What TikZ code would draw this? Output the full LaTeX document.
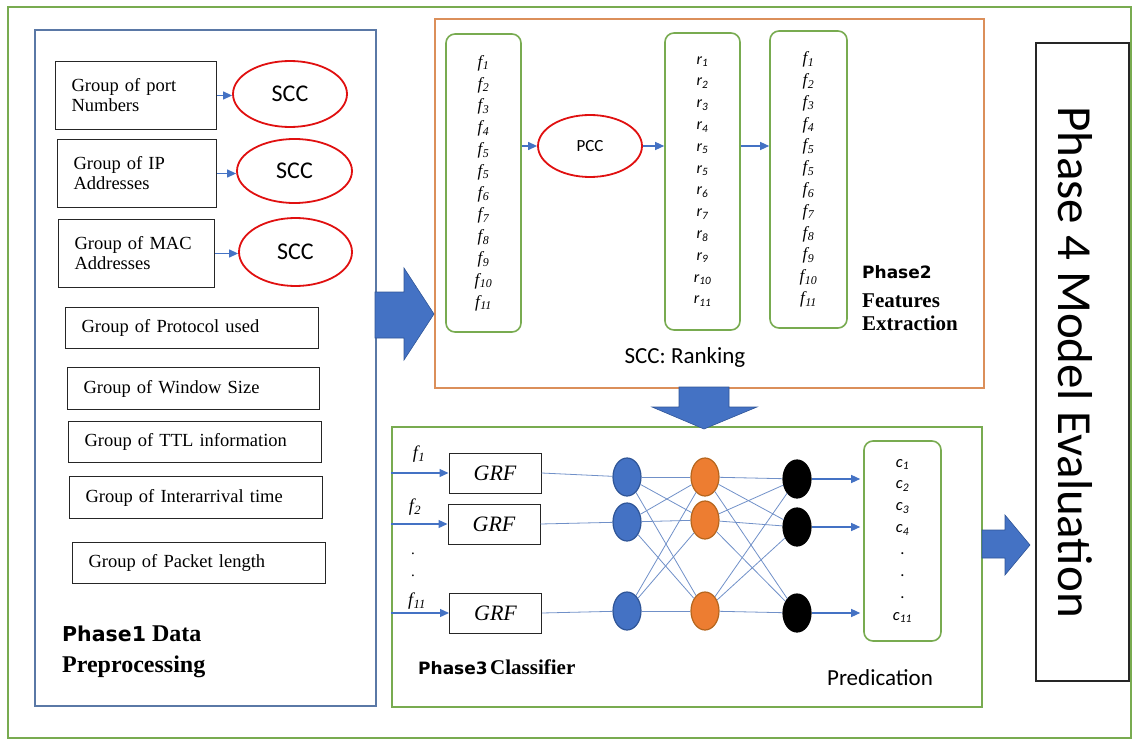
\documentclass[tikz,border=0pt]{standalone}
\usepackage{fontspec}
\setmainfont{Liberation Serif}
\setsansfont{Carlito}
\newfontfamily\dvs{DejaVu Sans}
\usetikzlibrary{shapes.geometric,arrows.meta,calc}
\definecolor{grn}{HTML}{78AB50}
\definecolor{p1blue}{HTML}{5A78A6}
\definecolor{orng}{HTML}{DB8F5A}
\definecolor{arrblue}{HTML}{4472C4}
\definecolor{arredge}{HTML}{2F5597}
\definecolor{netline}{HTML}{7090C8}
\definecolor{nodeorange}{HTML}{ED7D31}
\definecolor{orangeedge}{HTML}{B5651D}
\definecolor{sccred}{HTML}{E01010}
\newcommand{\fsub}[1]{\textit{f\kern0.5pt\textsubscript{#1}}}
\newcommand{\rsub}[1]{\textit{r\textsubscript{#1}}}
\newcommand{\csub}[1]{\textit{c\textsubscript{#1}}}
\begin{document}
\begin{tikzpicture}[x=1pt,y=-1pt,
  frame/.style={draw, inner sep=0pt},
  grpbox/.style={draw=black!85, line width=1pt, font=\fontsize{18.5}{20}\selectfont, align=left, inner xsep=16pt, inner ysep=0pt, anchor=north west},
  scc/.style={ellipse, draw=sccred, line width=1.8pt, inner sep=0pt, font=\sffamily\fontsize{24}{28}\selectfont},
  colbox/.style={draw=grn, line width=1.6pt, rounded corners=9pt, inner sep=0pt, align=center},
  arr/.style={draw=arrblue, line width=1.3pt, -{Triangle[length=9pt,width=8pt]}},
  bigarrow/.style={fill=arrblue, draw=arredge, line width=0.6pt},
  grfbox/.style={draw=black!85, line width=1pt, minimum width=92pt, minimum height=40pt, inner sep=0pt, font=\itshape\fontsize{22}{24}\selectfont},
  neuron/.style={ellipse, minimum width=28pt, minimum height=38pt, inner sep=0pt, line width=1.2pt},
  net/.style={draw=netline, line width=0.8pt},
]
\useasboundingbox (0,0) rectangle (1133,741);

% frames
\node[frame, draw=grn, line width=2pt, minimum width=1123pt, minimum height=731pt] (outer) at (569.5,372.5) {};
\node[frame, draw=p1blue, line width=1.8pt, minimum width=341pt, minimum height=676pt] (p1) at (205.5,368) {};
\node[frame, draw=orng, line width=1.8pt, minimum width=549pt, minimum height=369pt] (p2) at (709.5,203.5) {};
\node[frame, draw=grn, line width=2pt, minimum width=590pt, minimum height=280pt] (p3) at (687,567) {};
\node[frame, draw=black!85, line width=1.2pt, minimum width=93pt, minimum height=638pt] (p4) at (1082.5,362) {};

% Phase 1
\node[grpbox, text width=129pt, minimum height=68pt] (g1) at (55,61) {Group of port\\Numbers};
\node[grpbox, text width=127pt, minimum height=68pt] (g2) at (57,139) {Group of IP\\Addresses};
\node[grpbox, text width=124pt, minimum height=68pt] (g3) at (58,219) {Group of MAC\\Addresses};
\node[grpbox, text width=221pt, minimum height=41pt] (g4) at (65,307) {Group of Protocol used};
\node[grpbox, text width=220pt, minimum height=42pt] (g5) at (67,367) {Group of Window Size};
\node[grpbox, text width=221pt, minimum height=41pt] (g6) at (68,421) {Group of TTL information};
\node[grpbox, text width=221pt, minimum height=42pt] (g7) at (69,476) {Group of Interarrival time};
\node[grpbox, text width=221pt, minimum height=41pt] (g8) at (72,542) {Group of Packet length};

\node[scc, minimum width=114pt, minimum height=66pt] (s1) at (290,94) {SCC};
\node[scc, minimum width=115pt, minimum height=64pt] (s2) at (294.5,171) {SCC};
\node[scc, minimum width=113pt, minimum height=68pt] (s3) at (295.5,252) {SCC};
\draw[arr] (g1.east) -- (g1.east -| s1.west);
\draw[arr] (g2.east) -- (g2.east -| s2.west);
\draw[arr] (g3.east) -- (g3.east -| s3.west);

\node[anchor=north west, inner sep=0pt, align=left, font=\fontsize{24}{31}\selectfont] (p1t) at (62,626)
  {{\dvs\bfseries\fontsize{20.5}{31}\selectfont Phase1} {\bfseries Data}\\{\bfseries Preprocessing}};

% Phase 2
\node[colbox, minimum width=75pt, minimum height=298pt, font=\fontsize{17}{21.8}\selectfont] (fa) at (483.5,183)
  {\fsub{1}\\\fsub{2}\\\fsub{3}\\\fsub{4}\\\fsub{5}\\\fsub{5}\\\fsub{6}\\\fsub{7}\\\fsub{8}\\\fsub{9}\\\fsub{10}\\\fsub{11}};
\node[colbox, minimum width=75pt, minimum height=297pt, font=\sffamily\fontsize{16}{21.8}\selectfont] (ra) at (702.5,181.5)
  {\rsub{1}\\\rsub{2}\\\rsub{3}\\\rsub{4}\\\rsub{5}\\\rsub{5}\\\rsub{6}\\\rsub{7}\\\rsub{8}\\\rsub{9}\\\rsub{10}\\\rsub{11}};
\node[colbox, minimum width=77pt, minimum height=297pt, font=\fontsize{17}{21.8}\selectfont] (fb) at (808.5,179.5)
  {\fsub{1}\\\fsub{2}\\\fsub{3}\\\fsub{4}\\\fsub{5}\\\fsub{5}\\\fsub{6}\\\fsub{7}\\\fsub{8}\\\fsub{9}\\\fsub{10}\\\fsub{11}};
\node[scc, minimum width=104pt, minimum height=62pt, font=\sffamily\fontsize{17}{20}\selectfont] (pcc) at (590,146) {PCC};
\draw[arr] (pcc.west -| fa.east) -- (pcc.west);
\draw[arr] (pcc.east) -- (pcc.east -| ra.west);
\draw[arr] (pcc.east -| ra.east) -- (pcc.east -| fb.west);
\node[font=\sffamily\fontsize{23}{26}\selectfont] (rank) at (685,357) {SCC: Ranking};
\node[anchor=north west, inner sep=0pt, align=left, font=\fontsize{21}{23}\selectfont] (p2t) at (862,265)
  {{\dvs\bfseries\fontsize{17}{23}\selectfont Phase2}\\[6pt]{\bfseries Features}\\{\bfseries Extraction}};

% big arrows
\draw[bigarrow] (375,292) -- (404,292) -- (404,268) -- (434,314) -- (404,360) -- (404,338) -- (375,338) -- cycle;
\draw[bigarrow] (679,387) -- (729,387) -- (729,407) -- (757,407) -- (704,429) -- (652,407) -- (679,407) -- cycle;
\draw[bigarrow] (982,530) -- (1005,530) -- (1005,515) -- (1030,545) -- (1005,575) -- (1005,558) -- (982,558) -- cycle;

% Phase 3
\node[grfbox] (grf1) at (495,473) {GRF};
\node[grfbox] (grf2) at (494,524) {GRF};
\node[grfbox] (grf3) at (495.5,613) {GRF};
\draw[arr] (grf1.west -| p3.west) -- (grf1.west);
\draw[arr] (grf2.west -| p3.west) -- (grf2.west);
\draw[arr] (grf3.west -| p3.west) -- (grf3.west);
\node[font=\fontsize{18}{20}\selectfont] (in1) at (419,454) {\fsub{1}};
\node[font=\fontsize{18}{20}\selectfont] (in2) at (415,507) {\fsub{2}};
\node[font=\fontsize{15}{18}\selectfont] (dt1) at (413,554) {.};
\node[font=\fontsize{15}{18}\selectfont] (dt2) at (413,576) {.};
\node[font=\fontsize{18}{20}\selectfont] (in3) at (417,601) {\fsub{11}};

\node[neuron, fill=arrblue, draw=arredge] (b1) at (627,477) {};
\node[neuron, fill=arrblue, draw=arredge] (b2) at (627,522) {};
\node[neuron, fill=arrblue, draw=arredge] (b3) at (627,611) {};
\node[neuron, fill=nodeorange, draw=orangeedge] (o1) at (705,477) {};
\node[neuron, fill=nodeorange, draw=orangeedge] (o2) at (705,520) {};
\node[neuron, fill=nodeorange, draw=orangeedge] (o3) at (705,611) {};
\node[neuron, fill=black, draw=black] (k1) at (797,479) {};
\node[neuron, fill=black, draw=black] (k2) at (797,527) {};
\node[neuron, fill=black, draw=black] (k3) at (797,613) {};
\draw[net] (grf1.east) -- (b1);
\draw[net] (grf2.east) -- (b2);
\draw[net] (grf3.east) -- (b3);
\foreach \i in {1,2,3}{\foreach \j in {1,2,3}{
  \draw[net] (b\i) -- (o\j);
  \draw[net] (o\i) -- (k\j);
}}

\node[colbox, minimum width=77pt, minimum height=200pt, font=\sffamily\fontsize{16.5}{21.9}\selectfont] (cb) at (902.5,541)
  {\csub{1}\\\csub{2}\\\csub{3}\\\csub{4}\\.\\.\\.\\\csub{11}};
\draw[arr, shorten >=3pt] (k1.east) -- (k1.east -| cb.west);
\draw[arr, shorten >=3pt] (k2.east) -- (k2.east -| cb.west);
\draw[arr, shorten >=3pt] (k3.east) -- (k3.east -| cb.west);
\node[font=\sffamily\fontsize{23}{26}\selectfont] (pred) at (880,678) {Predication};
\node[anchor=west, inner sep=0pt] (p3t) at (418,667)
  {{\dvs\bfseries\fontsize{17}{20}\selectfont Phase3} {\bfseries\fontsize{21}{24}\selectfont Classifier}};

% Phase 4
\node[rotate=-90, anchor=base, inner sep=0pt, font=\sffamily\fontsize{49}{56}\selectfont] (p4t) at (1058,362) {Phase 4 Model Evaluation};
\end{tikzpicture}
\end{document}
